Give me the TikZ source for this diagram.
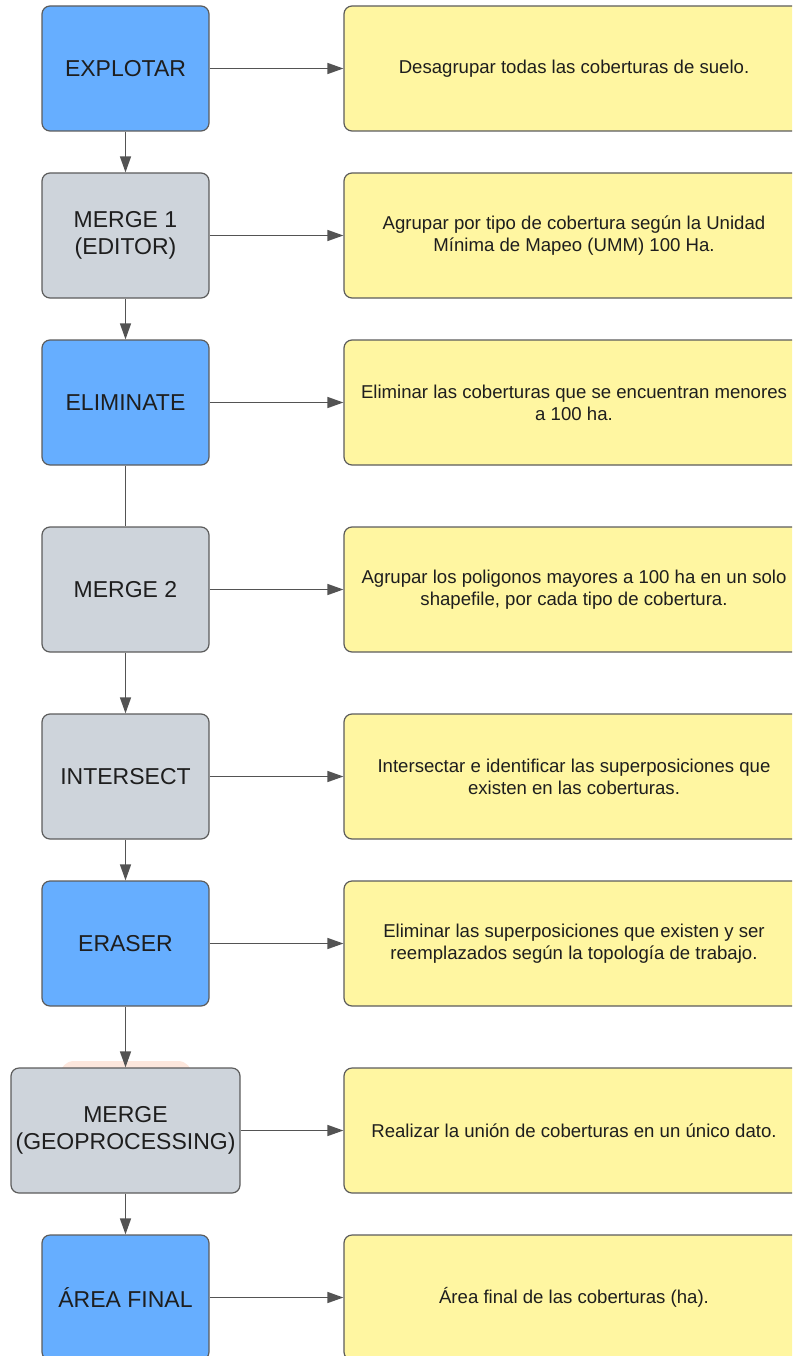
\documentclass[tikz,border=0pt]{standalone}
\usepackage{fontspec}
\setmainfont{Liberation Sans}
\usetikzlibrary{arrows.meta}
\definecolor{stepblue}{HTML}{66AEFF}
\definecolor{stepgray}{HTML}{CED4DB}
\definecolor{noteyellow}{HTML}{FFF6A1}
\definecolor{edgegray}{HTML}{5C5C5C}
\definecolor{inkdark}{HTML}{1E1E1E}
\definecolor{ghostpeach}{HTML}{FDE7DD}
\begin{document}
\begin{tikzpicture}[x=1pt,y=-1pt,
    procbox/.style={draw=edgegray, line width=1.2pt, rounded corners=8pt, inner sep=0pt,
      minimum width=167pt, minimum height=125pt, align=center, text=inkdark,
      font=\fontsize{23}{27}\selectfont},
    bluebox/.style={procbox, fill=stepblue},
    graybox/.style={procbox, fill=stepgray},
    notebox/.style={draw=edgegray, line width=1.2pt, rounded corners=8pt, inner sep=0pt,
      fill=noteyellow, minimum width=460pt, minimum height=125pt, align=center,
      text=inkdark, font=\fontsize{18.6}{22}\selectfont},
    flow/.style={draw=edgegray!90!black, line width=1.4pt, -{Triangle[length=16pt,width=11pt]}}]
  \useasboundingbox (0,0) rectangle (792,1356);
  \clip (0,0) rectangle (792,1356);
  % faint shape behind the geoprocessing step
  \fill[ghostpeach, rounded corners=14pt] (60,1061) rectangle (192,1100);
  \path
    (125.5,68.5)   node[bluebox] (explotar) {EXPLOTAR}
    (125.5,235.5)  node[graybox] (merge1) {MERGE 1\\(EDITOR)}
    (125.5,402.5)  node[bluebox] (eliminate) {ELIMINATE}
    (125.5,589.5)  node[graybox] (merge2) {MERGE 2}
    (125.5,776.5)  node[graybox] (intersect) {INTERSECT}
    (125.5,943.5)  node[bluebox] (eraser) {ERASER}
    (125.5,1130.5) node[graybox, minimum width=229pt] (mergegeo) {MERGE\\(GEOPROCESSING)}
    (125.5,1297.5) node[bluebox] (areafinal) {ÁREA FINAL};
  \path
    (574,68.5)   node[notebox] (nexplotar) {Desagrupar todas las coberturas de suelo.}
    (574,235.5)  node[notebox] (nmerge1) {Agrupar por tipo de cobertura según la Unidad\\Mínima de Mapeo (UMM) 100 Ha.}
    (574,402.5)  node[notebox] (neliminate) {Eliminar las coberturas que se encuentran menores\\a 100 ha.}
    (574,589.5)  node[notebox] (nmerge2) {Agrupar los poligonos mayores a 100 ha en un solo\\shapefile, por cada tipo de cobertura.}
    (574,776.5)  node[notebox] (nintersect) {Intersectar e identificar las superposiciones que\\existen en las coberturas.}
    (574,943.5)  node[notebox] (neraser) {Eliminar las superposiciones que existen y ser\\reemplazados según la topología de trabajo.}
    (574,1130.5) node[notebox] (nmergegeo) {Realizar la unión de coberturas en un único dato.}
    (574,1297.5) node[notebox] (nareafinal) {Área final de las coberturas (ha).};
  \begin{scope}[flow]
    \draw (explotar) to (merge1);
    \draw (merge1) to (eliminate);
    \draw[-] (eliminate) to (merge2);
    \draw (merge2) to (intersect);
    \draw (intersect) to (eraser);
    \draw (eraser) to (mergegeo);
    \draw (mergegeo) to (areafinal);
    \draw (explotar) to (nexplotar);
    \draw (merge1) to (nmerge1);
    \draw (eliminate) to (neliminate);
    \draw (merge2) to (nmerge2);
    \draw (intersect) to (nintersect);
    \draw (eraser) to (neraser);
    \draw (mergegeo) to (nmergegeo);
    \draw (areafinal) to (nareafinal);
  \end{scope}
\end{tikzpicture}
\end{document}
